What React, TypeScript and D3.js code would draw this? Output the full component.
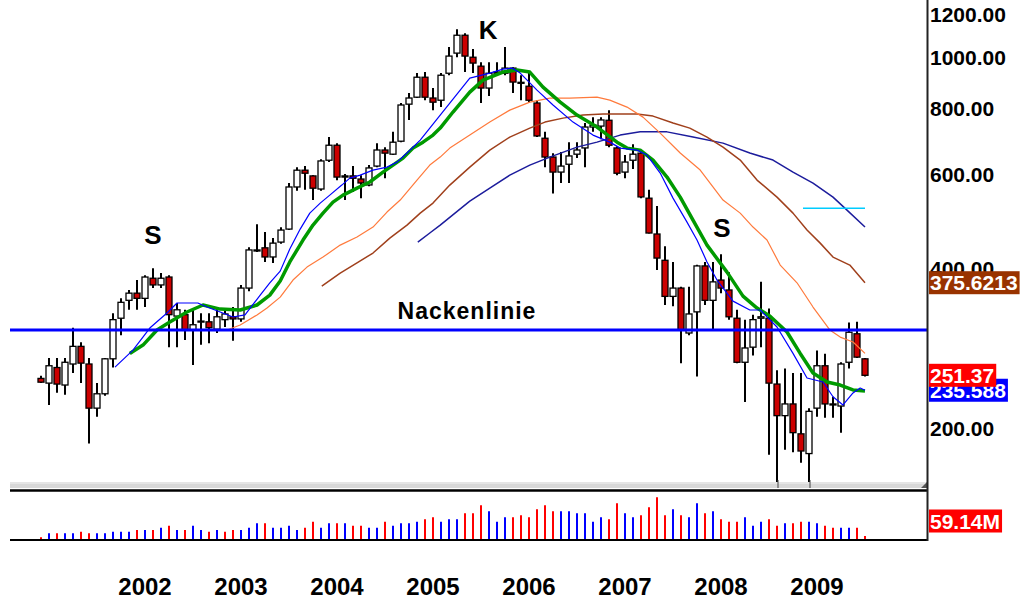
import React, { useEffect, useRef } from "react";
import * as d3 from "d3";

// monthly candles, first one is Dec 2000, last one Jul 2009
const firstMonth = new Date(2000, 11, 1);
const yearLabels = ["2002", "2003", "2004", "2005", "2006", "2007", "2008", "2009"];

const open = [
  248, 243, 260, 241, 264, 285, 264, 218, 232, 270,
  322, 348, 359, 351, 383, 372, 385, 325, 327, 306,
  317, 317, 307, 320, 324, 321, 367, 431, 437, 420,
  448, 474, 569, 612, 597, 564, 639, 682, 594, 597,
  589, 574, 623, 668, 656, 694, 815, 840, 916, 837,
  829, 932, 1017, 1099, 999, 961, 874, 932, 932, 953,
  896, 881, 819, 703, 648, 607, 628, 656, 674, 738,
  741, 760, 674, 607, 639, 659, 542, 464, 414, 354,
  367, 302, 331, 404, 348, 380, 364, 322, 266, 284,
  322, 322, 242, 211, 222, 195, 179, 218, 262, 222,
  220, 266, 301, 270,
];
const high = [
  251, 271, 271, 271, 309, 290, 271, 243, 271, 329,
  351, 364, 380, 388, 400, 392, 388, 344, 334, 334,
  329, 329, 335, 334, 338, 372, 438, 484, 468, 456,
  478, 579, 620, 623, 599, 642, 707, 688, 602, 623,
  599, 626, 688, 676, 723, 819, 855, 933, 937, 874,
  933, 1044, 1128, 1109, 1035, 978, 978, 978, 1044, 957,
  924, 933, 829, 723, 659, 662, 691, 691, 751, 770,
  770, 794, 679, 654, 685, 662, 562, 524, 440, 411,
  369, 369, 406, 411, 411, 425, 393, 334, 320, 327,
  377, 336, 257, 259, 254, 254, 218, 280, 276, 229,
  266, 316, 317, 271,
];
const low = [
  243, 221, 233, 231, 254, 243, 187, 210, 230, 260,
  299, 334, 334, 338, 367, 367, 284, 284, 293, 263,
  287, 289, 302, 310, 292, 317, 362, 429, 411, 409,
  445, 472, 560, 562, 538, 560, 634, 586, 538, 557,
  542, 571, 620, 591, 654, 691, 761, 837, 829, 794,
  805, 924, 999, 937, 933, 819, 844, 924, 924, 855,
  829, 822, 707, 620, 553, 579, 579, 645, 620, 723,
  700, 676, 599, 591, 615, 542, 465, 397, 341, 339,
  265, 299, 250, 341, 306, 359, 320, 265, 224, 274,
  284, 178, 158, 182, 180, 172, 158, 210, 209, 209,
  196, 259, 271, 250,
];
const close = [
  244, 262, 242, 266, 285, 265, 218, 232, 270, 320,
  345, 359, 351, 385, 372, 383, 327, 334, 306, 313,
  318, 309, 324, 328, 321, 367, 433, 433, 420, 446,
  472, 569, 612, 604, 566, 637, 682, 594, 597, 591,
  579, 618, 668, 659, 691, 812, 837, 916, 840, 822,
  924, 1004, 1099, 1004, 974, 874, 932, 937, 953, 897,
  893, 829, 710, 648, 607, 623, 651, 668, 738, 744,
  761, 682, 604, 634, 656, 545, 466, 418, 354, 367,
  306, 328, 404, 348, 377, 367, 324, 266, 283, 320,
  324, 243, 211, 222, 196, 181, 215, 262, 222, 221,
  264, 303, 272, 251.37,
];

// monthly volume in millions
const volume = [
  40, 100, 100, 100, 100, 125, 100, 100, 100, 125,
  125, 125, 150, 150, 150, 185, 215, 150, 150, 215,
  150, 125, 150, 125, 150, 150, 185, 250, 250, 185,
  185, 215, 150, 185, 275, 185, 250, 250, 250, 215,
  215, 185, 185, 275, 215, 250, 250, 275, 310, 340,
  275, 310, 310, 400, 400, 520, 430, 275, 340, 340,
  370, 340, 460, 520, 430, 430, 430, 400, 400, 275,
  340, 310, 550, 400, 340, 370, 490, 640, 370, 460,
  370, 340, 550, 400, 430, 310, 275, 275, 340, 215,
  275, 310, 215, 250, 250, 275, 275, 250, 215, 185,
  185, 185, 185, 59.14,
];
// colour of each volume bar as drawn: r = red, b = blue
const volumeColor = (
  "rbrbbrrbbb" + "bbrbrbrbrb" + "brbrrbbbrb" + "bbbrrbbrbr" + "rbbrbbbbrr" +
  "bbbrrrbbbr" + "rrrrrbbbbb" + "brrbbrrrrb" + "rbbrbrrrbb" + "brrbrrbbrr" + "bbrr"
).split("");

// moving averages: [month index, value]
const maFast = [
  [9.25, 260.5], [11.5, 280.4], [13.6, 308.6], [15.75, 329.4], [17, 344], [19.6, 344],
  [20.75, 338], [22.4, 330.8], [24, 323.7], [25.5, 326.6], [27.4, 356], [28.6, 375.5],
  [29.9, 395], [31.1, 434.6], [32.4, 474], [33.6, 508], [34.9, 530.6], [36.1, 549.3],
  [37.6, 573.7], [38.6, 591.4], [39.9, 599], [41.5, 612.3], [43.25, 620.3], [44.5, 633.8],
  [45.75, 659.3], [47.4, 697.3], [48.6, 734.6], [49.6, 767.1], [51.1, 818.8], [53.6, 912.4],
  [56.1, 932.5], [57.75, 948.8], [58.9, 952.9], [59.9, 932.5], [62, 866.1], [64, 811.8],
  [66.5, 754], [69, 712.6], [71.1, 691.2], [72.4, 673.5], [74.5, 667.7], [75.75, 653.6],
  [77.4, 604.4], [79, 542.2], [80.75, 488.6], [82, 452], [83.25, 411], [84.5, 380],
  [86.5, 346.8], [88.6, 333.7], [89.9, 333.7], [92, 310], [94, 276.4], [95.75, 248.4],
  [97.75, 244.2], [99, 229], [100.25, 221], [101.5, 232.9], [102.4, 237.9], [103, 235.6],
];
const maMid = [
  [11.1, 276.4], [12.75, 286.6], [14.5, 306], [16.1, 316.7], [18.25, 330.8], [20.25, 341],
  [22.4, 335], [24.9, 333.7], [27, 341], [28.6, 356], [29.9, 378.3], [31.1, 411],
  [32.75, 452], [34, 482.3], [35.25, 508], [36.5, 532.9], [37.75, 549.3], [39.5, 566.3],
  [41.1, 581.4], [42.75, 607], [44, 625.7], [45.25, 645], [46.5, 673.5], [47.75, 691.2],
  [49, 712.6], [49.9, 734.6], [51.5, 787.7], [53.6, 858.8], [55.25, 904.5], [57.75, 936.6],
  [59.5, 944.8], [61.1, 936.6], [62.75, 877.5], [64.9, 822.2], [67, 777.2], [69.5, 737.8],
  [72, 691.2], [73.25, 673.5], [74.9, 667.7], [76.5, 639.4], [78.25, 594], [79.9, 544.5],
  [81.5, 492.9], [83.25, 442.2], [85.75, 393.3], [87.75, 354.4], [89.5, 336.5], [91.1, 325.2],
  [93.25, 303.3], [94.9, 276.4], [96.5, 253.9], [98.25, 244.2], [99.9, 241], [101.5, 235.9],
  [103, 234.9],
];
const maSlow = [
  [23.25, 306], [24.9, 312.7], [27, 326.6], [28.25, 336.5], [29.9, 352.9], [31.5, 380],
  [33.25, 402], [35.25, 419.8], [37.4, 442.2], [39.5, 457.9], [41.5, 478.2], [43.25, 510.4],
  [44.9, 537.6], [47, 586.3], [48.6, 625.7], [49.9, 647.8], [51.1, 673.5], [53.6, 712.6],
  [56.1, 754], [58.6, 794.2], [61.1, 822.2], [63.6, 836.6], [66.1, 836.6], [69.5, 840.2],
  [71.1, 829.4], [73.25, 804.6], [75.25, 770.4], [77.4, 718.8], [79.9, 659.3], [82.4, 612.3],
  [85.25, 537.6], [87.4, 508], [89, 478.2], [90.75, 452], [92.4, 405.5], [94.5, 375.5],
  [96.5, 338], [98.6, 306], [99.9, 296.7], [101.5, 290.4], [103, 276.4],
];
const maSlower = [
  [35.1, 370.1], [37.4, 391.6], [39.5, 409.2], [41.5, 427.2], [43.6, 455.9], [45.75, 482.3],
  [47.4, 508], [49, 530.6], [51.1, 573.7], [53.6, 620.3], [56.1, 667.7], [58.6, 706.5],
  [61.1, 734.6], [63, 754], [65.25, 767.1], [67.75, 777.2], [70.25, 780.6], [74.5, 780.6],
  [76.5, 773.8], [79, 750.8], [81.1, 734.6], [83.25, 706.5], [85.25, 676.4], [87.4, 639.4],
  [89.5, 586.3], [92, 544.5], [94, 508], [95.75, 472], [97.4, 446], [99, 419.8],
  [101.1, 405.5], [103, 375.62],
];
const maSlowest = [
  [47.1, 448], [48.6, 466], [49.9, 482.3], [51.75, 508], [53.6, 535.3], [56.1, 566.3],
  [58.6, 599], [61.1, 625.7], [63.6, 647.8], [67, 676.4], [69.5, 691.2], [72.4, 712.6],
  [74.9, 722.7], [78.25, 722.7], [81.5, 706.5], [85.25, 688.2], [88.6, 659.3], [91.5, 639.4],
  [94, 607], [96.5, 578.8], [99, 544.5], [100.75, 514.6], [103, 478.2],
];

const neckline = 306;
const resistance = { from: 95.25, to: 103, value: 519 };

const priceTicks = [200, 400, 600, 800, 1000, 1200];
const lastValues = [
  { text: "375.6213", value: 375.62, color: "#993300" },
  { text: "235.588", value: 235.588, color: "#0000ff" },
  { text: "251.37", value: 251.37, color: "#ff0000" },
];
const volumeLabel = "59.14M";

const annotations = [
  { text: "S", t: 14, value: 462, size: 26 },
  { text: "K", t: 55.9, value: 1123, size: 26 },
  { text: "S", t: 85.1, value: 476, size: 26 },
  { text: "Nackenlinie", t: 53.25, value: 332, size: 23 },
];

const font = "'Liberation Sans', Arial, sans-serif";

const App = () => {
  const ref = useRef<SVGSVGElement>(null);

  useEffect(() => {
    document.body.style.margin = "0";
    const svg = d3.select(ref.current);
    svg.selectAll("*").remove();

    const left = 10;
    const right = 927;
    const paneBottom = 482;
    const volTop = 492;
    const volBottom = 540;
    const n = close.length;

    const x = d3.scaleLinear().domain([0, n - 1]).range([41, 865]);
    const y = d3.scaleLog().domain([200, 1000]).range([428, 57]);
    const yv = d3.scaleLinear().domain([0, 720]).range([volBottom, volTop]);
    const months = d3.timeMonth.range(firstMonth, d3.timeMonth.offset(firstMonth, n));

    svg.append("rect").attr("width", 1023).attr("height", 600).attr("fill", "#ffffff");

    const defs = svg.append("defs");
    defs.append("clipPath").attr("id", "pane")
      .append("rect").attr("x", left).attr("y", 0)
      .attr("width", right - left).attr("height", paneBottom);

    const pane = svg.append("g").attr("clip-path", "url(#pane)");

    // candles
    const candle = pane.selectAll("g.c").data(d3.range(n)).enter().append("g");
    candle.append("line")
      .attr("x1", (i) => x(i)).attr("x2", (i) => x(i))
      .attr("y1", (i) => y(high[i])).attr("y2", (i) => y(low[i]))
      .attr("stroke", "#000").attr("stroke-width", 2);
    candle.append("rect")
      .attr("x", (i) => x(i) - 3)
      .attr("width", 6)
      .attr("y", (i) => y(Math.max(open[i], close[i])))
      .attr("height", (i) => Math.max(1, Math.abs(y(open[i]) - y(close[i]))))
      .attr("fill", (i) => (close[i] >= open[i] ? "#ffffff" : "#cc0000"))
      .attr("stroke", "#000").attr("stroke-width", 1.3);

    const line = d3.line<number[]>().x((d) => x(d[0])).y((d) => y(d[1]));
    const maStyles: [number[][], string, number][] = [
      [maSlowest, "#1c1c9c", 1.5],
      [maSlower, "#a0401c", 1.5],
      [maSlow, "#ff7a3c", 1.2],
      [maMid, "#009a00", 3.5],
      [maFast, "#0000ff", 1.2],
    ];
    maStyles.forEach(([pts, color, w]) => {
      pane.append("path").attr("d", line(pts)).attr("fill", "none")
        .attr("stroke", color).attr("stroke-width", w).attr("stroke-linejoin", "round");
    });

    pane.append("line")
      .attr("x1", x(resistance.from)).attr("x2", x(resistance.to))
      .attr("y1", y(resistance.value)).attr("y2", y(resistance.value))
      .attr("stroke", "#00ccff").attr("stroke-width", 1.5);

    svg.append("line")
      .attr("x1", left).attr("x2", right)
      .attr("y1", y(neckline)).attr("y2", y(neckline))
      .attr("stroke", "#0000ff").attr("stroke-width", 3);

    annotations.forEach((a) => {
      svg.append("text")
        .attr("x", x(a.t)).attr("y", y(a.value))
        .attr("text-anchor", "middle").attr("dominant-baseline", "central")
        .attr("font-family", font).attr("font-weight", "bold")
        .attr("font-size", a.size).attr("letter-spacing", a.text.length > 1 ? 1 : 0)
        .attr("fill", "#000").text(a.text);
    });

    // pane separator / scroll bar
    svg.append("rect").attr("x", left).attr("y", 482).attr("width", right - left).attr("height", 6)
      .attr("fill", "#d8d8d8");
    svg.append("line").attr("x1", left).attr("x2", right).attr("y1", 483).attr("y2", 483)
      .attr("stroke", "#f2f2f2").attr("stroke-width", 1);
    svg.append("line").attr("x1", left).attr("x2", right).attr("y1", 490.5).attr("y2", 490.5)
      .attr("stroke", "#000").attr("stroke-width", 2.5);
    [778, 810].forEach((px) => {
      svg.append("line").attr("x1", px).attr("x2", px).attr("y1", 480).attr("y2", 488)
        .attr("stroke", "#444").attr("stroke-width", 1);
    });
    svg.append("path").attr("d", `M${right - 6},488 L${right},482 L${right},488 Z`).attr("fill", "#555");

    // volume
    svg.append("g").selectAll("line").data(d3.range(n)).enter().append("line")
      .attr("x1", (i) => x(i)).attr("x2", (i) => x(i))
      .attr("y1", volBottom).attr("y2", (i) => yv(volume[i]))
      .attr("stroke", (i) => (volumeColor[i] === "r" ? "#ff0000" : "#0000ff"))
      .attr("stroke-width", 2);
    svg.append("line").attr("x1", left).attr("x2", right).attr("y1", volBottom).attr("y2", volBottom)
      .attr("stroke", "#000").attr("stroke-width", 2);

    // right axis
    svg.append("line").attr("x1", right + 0.5).attr("x2", right + 0.5).attr("y1", 0).attr("y2", volBottom + 1)
      .attr("stroke", "#222").attr("stroke-width", 2);

    const fmt = d3.format(".2f");
    svg.append("g").selectAll("text").data(priceTicks).enter().append("text")
      .attr("x", 930).attr("y", (d) => y(d))
      .attr("dominant-baseline", "central")
      .attr("font-family", font).attr("font-weight", "bold").attr("font-size", 21)
      .attr("fill", "#000").text((d) => fmt(d));

    const valueBox = (text: string, cy: number, color: string) => {
      const g = svg.append("g");
      const r = g.append("rect").attr("x", 929).attr("y", cy - 11.5).attr("height", 23).attr("fill", color);
      const t = g.append("text").attr("x", 930).attr("y", cy)
        .attr("dominant-baseline", "central")
        .attr("font-family", font).attr("font-weight", "bold").attr("font-size", 21)
        .attr("fill", "#fff").text(text);
      const w = (t.node() as SVGTextElement).getComputedTextLength();
      r.attr("width", w + 3);
    };
    lastValues.forEach((v) => valueBox(v.text, y(v.value), v.color));
    valueBox(volumeLabel, 521, "#ff0000");

    // year labels at January of each labelled year
    const fy = d3.timeFormat("%Y");
    svg.append("g").selectAll("text")
      .data(months.map((m, i) => ({ m, i }))
        .filter((d) => d.m.getMonth() === 0 && yearLabels.includes(fy(d.m))))
      .enter().append("text")
      .attr("x", (d) => x(d.i)).attr("y", 595)
      .attr("text-anchor", "middle")
      .attr("font-family", font).attr("font-weight", "bold").attr("font-size", 24)
      .attr("fill", "#000").text((d) => fy(d.m));
  }, []);

  return <svg ref={ref} width={1023} height={600} style={{ display: "block" }}></svg>;
};

export default App;
